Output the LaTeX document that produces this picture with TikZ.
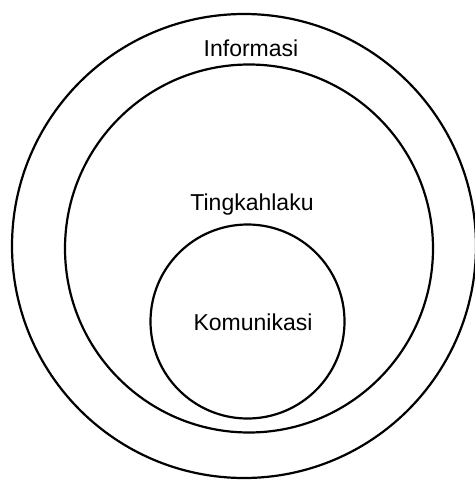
\documentclass[tikz,border=0pt]{standalone}
\usepackage{fontspec}
\setmainfont{Liberation Sans}
\usetikzlibrary{positioning}

\begin{document}
\begin{tikzpicture}[
  x=1pt, y=-1pt,
  ring/.style={circle, draw=black, line width=2.2pt, inner sep=0pt},
  lbl/.style={anchor=base, inner sep=0pt, font=\fontsize{23}{27}\selectfont}
]
  \useasboundingbox (0,0) rectangle (474,481);
  % nested circles
  \node[ring, minimum size=464pt] (informasi)   at (244,246)   {};
  \node[ring, minimum size=368pt] (tingkahlaku) at (249,248.5) {};
  \node[ring, minimum size=194pt] (komunikasi)  at (247.5,321.5) {};
  % labels
  \node[lbl] (infotext) at (251,57)  {Informasi};
  \node[lbl] (tingtext) at (252,210) {Tingkahlaku};
  \node[lbl] (komtext)  at (253,330) {Komunikasi};
\end{tikzpicture}
\end{document}
